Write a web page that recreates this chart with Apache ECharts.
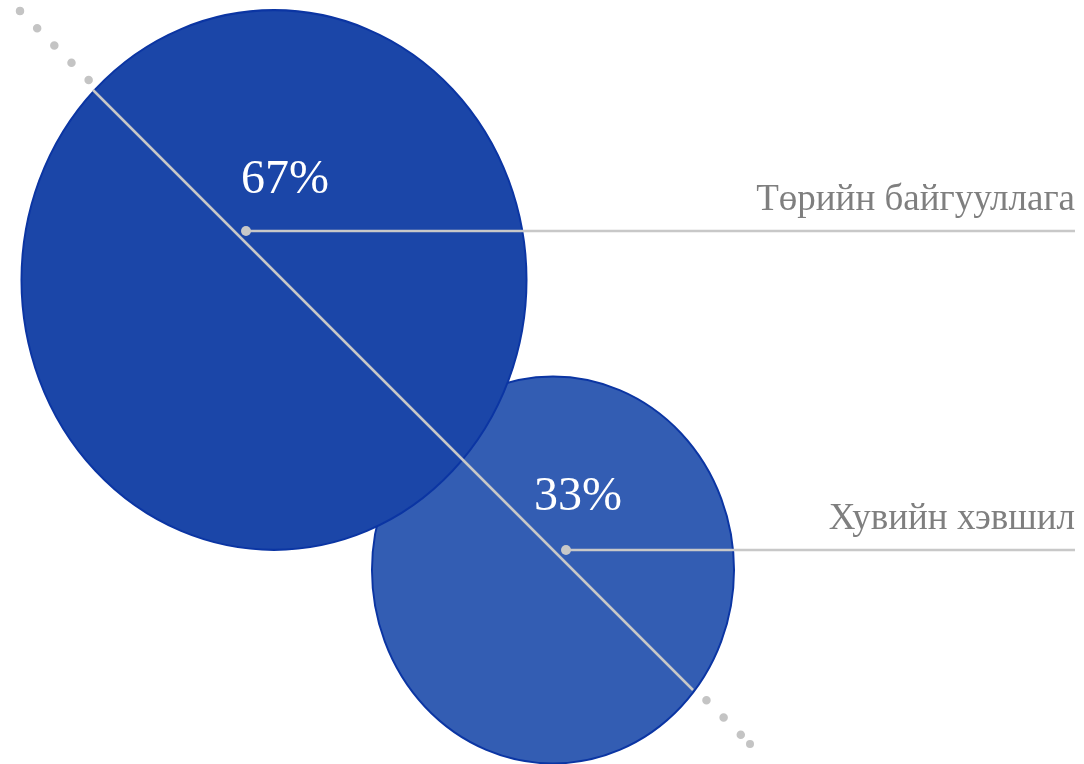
<!DOCTYPE html>
<html>
<head>
<meta charset="utf-8">
<script src="https://cdn.jsdelivr.net/npm/echarts@6/dist/echarts.min.js"></script>
<style>
  html, body { margin: 0; padding: 0; background: #fff; }
  #chart { width: 1084px; height: 764px; }
</style>
</head>
<body>
<div id="chart"></div>
<script>
  // data
  const categories = ['Төрийн байгууллага', 'Хувийн хэвшил']
  const shares = [67, 33]

  // layout (pixel-like axis units, y grows downward)
  const centers = [[274, 280], [553, 570]]
  const anchors = [[246, 231], [566, 550]]
  const pctOffsets = [[39, -51], [12, -53]]
  const lineEndX = 1075
  const kW = 70.0
  const kH = 74.8
  const sizePow = 0.47

  const serif = '"Liberation Serif", "Times New Roman", serif'
  const fills = ['#1b46a8', '#335db3']

  const chart = echarts.init(document.getElementById('chart'))

  // small bubble first so the big one is drawn on top
  const bubbles = categories.map((name, i) => ({
    name,
    value: [centers[i][0], centers[i][1], shares[i]],
    itemStyle: { color: fills[i] },
  })).reverse()

  const leaders = categories.map((name, i) => ({
    name: name,
    type: 'line',
    z: 5,
    silent: true,
    lineStyle: { color: '#c8c8c8', width: 2.5 },
    itemStyle: { color: '#c8c8c8' },
    data: [
      {
        value: anchors[i],
        symbol: 'circle',
        symbolSize: 10,
        label: {
          show: true,
          position: 'inside',
          offset: pctOffsets[i],
          formatter: shares[i] + '%',
          color: '#fff',
          fontFamily: serif,
          fontSize: 48,
        },
      },
      {
        value: [lineEndX, anchors[i][1]],
        symbol: 'circle',
        symbolSize: 0.1,
        itemStyle: { color: 'rgba(0,0,0,0)' },
        label: {
          show: true,
          position: 'top',
          align: 'right',
          distance: 12,
          formatter: name,
          color: '#7f7f7f',
          fontFamily: serif,
          fontSize: 37,
        },
      },
    ],
  }))

  const option = {
    animation: false,
    grid: { left: 0, right: 0, top: 0, bottom: 0 },
    xAxis: { type: 'value', min: 0, max: 1084, show: false },
    yAxis: { type: 'value', min: 0, max: 764, inverse: true, show: false },
    series: [
      {
        // dotted guide under the bubbles
        type: 'line',
        z: 1,
        silent: true,
        symbol: 'circle',
        symbolSize: 8,
        itemStyle: { color: '#c4c4c4' },
        lineStyle: { color: '#c4c4c4', width: 8.5, type: [0, 24.32], cap: 'round' },
        data: [[20, 11], [750, 744]],
      },
      {
        type: 'scatter',
        z: 2,
        silent: true,
        symbol: 'circle',
        symbolSize: v => [kW * Math.pow(v[2], sizePow), kH * Math.pow(v[2], sizePow)],
        itemStyle: { borderColor: '#0b35a3', borderWidth: 2, opacity: 1 },
        data: bubbles,
      },
      {
        // solid diagonal across the bubbles
        type: 'line',
        z: 4,
        silent: true,
        symbol: 'none',
        lineStyle: { color: '#c8c8c8', width: 2.5 },
        data: [[93, 90], [693, 690]],
      },
      ...leaders,
    ],
  }

  chart.setOption(option)
</script>
</body>
</html>
